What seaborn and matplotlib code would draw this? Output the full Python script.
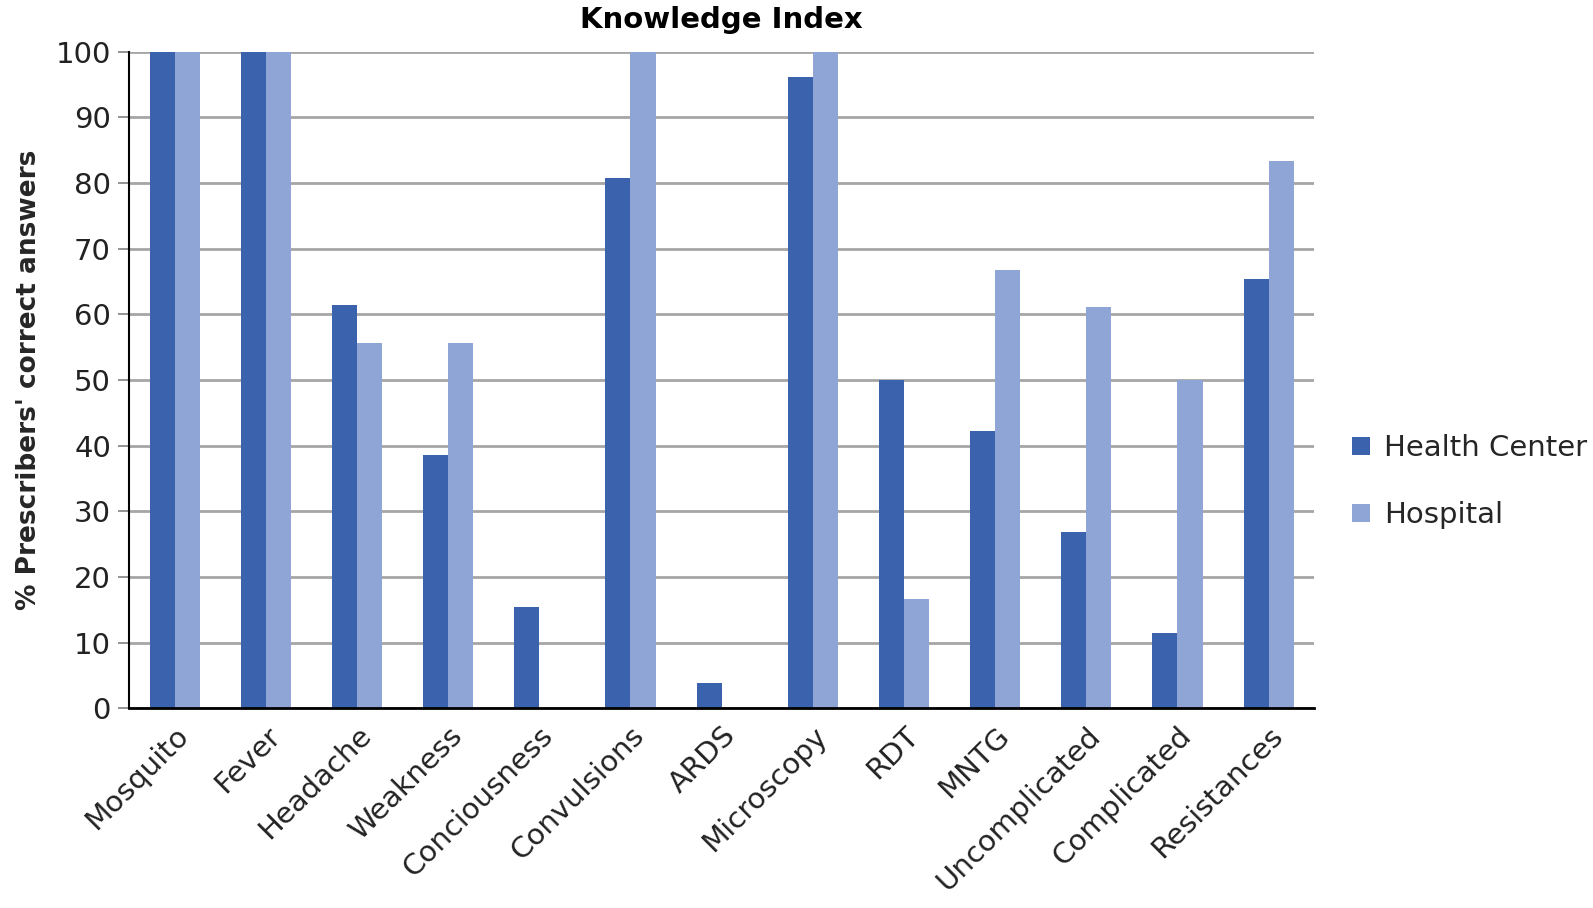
import pandas as pd
import matplotlib.pyplot as plt
import seaborn as sns

# --- Data ---
categories = ['Mosquito', 'Fever', 'Headache', 'Weakness', 'Conciousness', 'Convulsions',
              'ARDS', 'Microscopy', 'RDT', 'MNTG', 'Uncomplicated', 'Complicated', 'Resistances']
health_center = [100, 100, 61.5, 38.5, 15.4, 80.8, 3.8, 96.2, 50.0, 42.3, 26.9, 11.5, 65.4]
hospital = [100, 100, 55.6, 55.6, 0, 100, 0, 100, 16.7, 66.7, 61.1, 50.0, 83.3]
series_names = ['Health Center', 'Hospital']
colors = ['#3A62AD', '#8EA5D6']

df = pd.DataFrame({'Item': categories, series_names[0]: health_center, series_names[1]: hospital})
long_df = df.melt(id_vars='Item', var_name='Group', value_name='Percent')

sns.set_style('white')
plt.rcParams['font.family'] = ['DejaVu Sans']

fig = plt.figure(figsize=(15.93, 9.08), dpi=100)
ax = fig.add_axes([0.081, 0.220, 0.744, 0.723])

sns.barplot(data=long_df, x='Item', y='Percent', hue='Group', palette=colors,
            width=0.55, saturation=1, linewidth=0, ax=ax, legend=True)

ax.set_ylim(0, 100)
ax.set_yticks(range(0, 101, 10))
ax.set_xlim(-0.5, len(categories) - 0.5)
ax.yaxis.grid(True, color='#a6a6a6', linewidth=2)
ax.set_axisbelow(True)
for side in ['top', 'right']:
    ax.spines[side].set_visible(False)
ax.spines['left'].set_color('black')
ax.spines['left'].set_linewidth(1.5)
ax.spines['bottom'].set_color('black')
ax.spines['bottom'].set_linewidth(2)

ax.tick_params(axis='y', left=True, length=8, width=1.2, color='#808080', labelsize=21,
               labelcolor='#222222', pad=5)
ax.tick_params(axis='x', bottom=False, labelsize=21, labelcolor='#222222', pad=6)
plt.setp(ax.get_xticklabels(), rotation=45, ha='right', rotation_mode='anchor')

ax.set_xlabel('')
ax.set_ylabel("% Prescribers' correct answers", fontsize=19, fontweight='bold', labelpad=10)
ax.set_title('Knowledge Index', fontsize=21, fontweight='bold', pad=17, color='black')

ax.legend(title=None, loc='center left', bbox_to_anchor=(1.01, 0.345), frameon=False,
          fontsize=21, handlelength=0.6, handleheight=0.6, labelspacing=1.35, handletextpad=0.5)

fig.savefig('out.png', dpi=100)
